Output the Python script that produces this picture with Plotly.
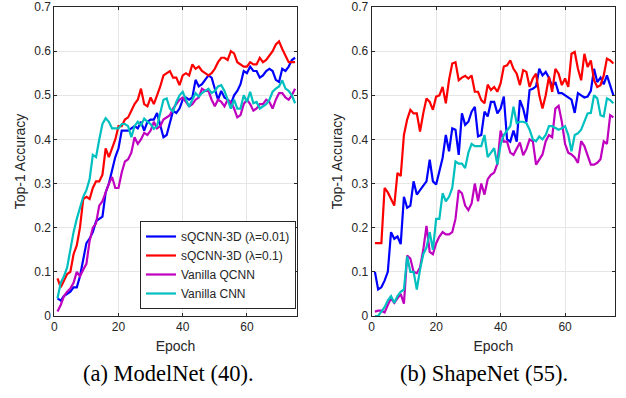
import plotly.graph_objects as go

epochs = list(range(1, 76))

# ---- (a) ModelNet (40) ----
modelnet_sqcnn_001 = [0.04, 0.035, 0.045, 0.05, 0.055, 0.065, 0.065, 0.09, 0.13, 0.165,
                      0.175, 0.19, 0.215, 0.22, 0.225, 0.28, 0.30, 0.33, 0.36, 0.38,
                      0.42, 0.42, 0.42, 0.425, 0.43, 0.425, 0.44, 0.42, 0.44, 0.445,
                      0.445, 0.46, 0.43, 0.405, 0.41, 0.44, 0.465, 0.46, 0.47, 0.49,
                      0.495, 0.49, 0.495, 0.535, 0.52, 0.525, 0.535, 0.545, 0.54, 0.515,
                      0.49, 0.51, 0.495, 0.49, 0.48, 0.50, 0.51, 0.525, 0.555, 0.55,
                      0.565, 0.555, 0.555, 0.54, 0.545, 0.555, 0.56, 0.555, 0.535, 0.53,
                      0.56, 0.555, 0.565, 0.58, 0.585]
modelnet_sqcnn_01 = [0.085, 0.065, 0.08, 0.095, 0.10, 0.14, 0.16, 0.20, 0.265, 0.27,
                     0.265, 0.29, 0.305, 0.305, 0.32, 0.38, 0.36, 0.38, 0.40, 0.43,
                     0.43, 0.445, 0.45, 0.465, 0.48, 0.49, 0.515, 0.48, 0.475, 0.495,
                     0.48, 0.50, 0.52, 0.545, 0.55, 0.555, 0.54, 0.54, 0.523, 0.545,
                     0.55, 0.545, 0.57, 0.56, 0.565, 0.555, 0.55, 0.545, 0.55, 0.56,
                     0.575, 0.585, 0.585, 0.58, 0.60, 0.595, 0.575, 0.57, 0.565, 0.565,
                     0.575, 0.57, 0.57, 0.585, 0.575, 0.58, 0.59, 0.60, 0.615, 0.622,
                     0.605, 0.59, 0.575, 0.575, 0.575]
modelnet_vqcnn = [0.01, 0.025, 0.045, 0.055, 0.062, 0.075, 0.10, 0.09, 0.105, 0.118,
                  0.17, 0.20, 0.21, 0.25, 0.26, 0.28, 0.30, 0.315, 0.29, 0.29,
                  0.325, 0.35, 0.355, 0.37, 0.405, 0.39, 0.40, 0.415, 0.41, 0.42,
                  0.44, 0.425, 0.43, 0.445, 0.45, 0.455, 0.47, 0.48, 0.49, 0.495,
                  0.485, 0.475, 0.48, 0.49, 0.495, 0.515, 0.51, 0.51, 0.49, 0.475,
                  0.49, 0.485, 0.475, 0.49, 0.485, 0.47, 0.45, 0.455, 0.48, 0.49,
                  0.48, 0.465, 0.47, 0.48, 0.48, 0.49, 0.485, 0.47, 0.49, 0.505,
                  0.505, 0.495, 0.49, 0.50, 0.515]
modelnet_vcnn = [0.04, 0.075, 0.09, 0.11, 0.15, 0.19, 0.22, 0.245, 0.27, 0.285,
                 0.31, 0.365, 0.36, 0.40, 0.435, 0.448, 0.44, 0.425, 0.425, 0.425,
                 0.435, 0.435, 0.43, 0.405, 0.43, 0.44, 0.432, 0.447, 0.44, 0.435,
                 0.424, 0.43, 0.46, 0.49, 0.493, 0.47, 0.463, 0.485, 0.50, 0.508,
                 0.49, 0.474, 0.49, 0.505, 0.497, 0.505, 0.51, 0.515, 0.505, 0.51,
                 0.52, 0.523, 0.51, 0.49, 0.47, 0.49, 0.47, 0.47, 0.50, 0.485,
                 0.508, 0.482, 0.485, 0.47, 0.475, 0.48, 0.49, 0.508, 0.515, 0.52,
                 0.534, 0.515, 0.51, 0.50, 0.482]

# ---- (b) ShapeNet (55) ----
shapenet_sqcnn_001 = [0.10, 0.06, 0.065, 0.08, 0.10, 0.19, 0.175, 0.18, 0.163, 0.27,
                      0.245, 0.25, 0.305, 0.275, 0.285, 0.295, 0.305, 0.354, 0.305, 0.298,
                      0.332, 0.358, 0.41, 0.373, 0.425, 0.422, 0.365, 0.459, 0.433, 0.44,
                      0.463, 0.474, 0.407, 0.41, 0.463, 0.452, 0.485, 0.485, 0.459, 0.47,
                      0.497, 0.40, 0.395, 0.42, 0.395, 0.489, 0.47, 0.44, 0.512, 0.515,
                      0.52, 0.56, 0.545, 0.553, 0.54, 0.52, 0.53, 0.505, 0.505, 0.50,
                      0.495, 0.49, 0.46, 0.505, 0.50, 0.495, 0.497, 0.51, 0.56, 0.53,
                      0.54, 0.525, 0.545, 0.52, 0.50]
shapenet_sqcnn_01 = [0.165, 0.165, 0.165, 0.29, 0.28, 0.265, 0.25, 0.324, 0.317, 0.41,
                     0.445, 0.467, 0.459, 0.459, 0.418, 0.459, 0.493, 0.485, 0.467, 0.497,
                     0.50, 0.519, 0.482, 0.535, 0.572, 0.575, 0.534, 0.54, 0.544, 0.538,
                     0.545, 0.508, 0.508, 0.489, 0.482, 0.524, 0.512, 0.519, 0.508, 0.527,
                     0.565, 0.568, 0.579, 0.56, 0.549, 0.523, 0.557, 0.553, 0.519, 0.538,
                     0.549, 0.50, 0.47, 0.50, 0.542, 0.508, 0.56, 0.549, 0.523, 0.538,
                     0.519, 0.594, 0.598, 0.56, 0.534, 0.594, 0.564, 0.579, 0.534, 0.519,
                     0.523, 0.545, 0.583, 0.579, 0.572]
shapenet_vqcnn = [0.01, 0.012, 0.012, 0.008, 0.025, 0.04, 0.03, 0.04, 0.05, 0.028,
                  0.137, 0.13, 0.10, 0.097, 0.11, 0.15, 0.204, 0.145, 0.14, 0.165,
                  0.18, 0.19, 0.185, 0.185, 0.19, 0.22, 0.285, 0.278, 0.25, 0.24,
                  0.255, 0.30, 0.26, 0.30, 0.275, 0.31, 0.32, 0.325, 0.345, 0.42,
                  0.395, 0.395, 0.37, 0.365, 0.38, 0.393, 0.364, 0.378, 0.40, 0.396,
                  0.343, 0.355, 0.366, 0.396, 0.41, 0.405, 0.47, 0.476, 0.44, 0.39,
                  0.37, 0.366, 0.359, 0.347, 0.396, 0.385, 0.366, 0.343, 0.343, 0.347,
                  0.355, 0.396, 0.39, 0.455, 0.45]
shapenet_vcnn = [0.0, 0.0, 0.01, 0.02, 0.035, 0.045, 0.03, 0.045, 0.055, 0.06,
                 0.135, 0.10, 0.10, 0.06, 0.105, 0.14, 0.155, 0.19, 0.15, 0.22,
                 0.22, 0.278, 0.26, 0.27, 0.29, 0.35, 0.345, 0.345, 0.335, 0.37,
                 0.39, 0.385, 0.385, 0.385, 0.41, 0.36, 0.37, 0.38, 0.343, 0.388,
                 0.41, 0.42, 0.43, 0.474, 0.437, 0.44, 0.44, 0.437, 0.422, 0.40,
                 0.396, 0.407, 0.40, 0.41, 0.43, 0.43, 0.425, 0.422, 0.425, 0.43,
                 0.41, 0.373, 0.41, 0.414, 0.422, 0.44, 0.459, 0.46, 0.50, 0.493,
                 0.455, 0.452, 0.493, 0.489, 0.482]

series_names = ["sQCNN-3D (λ=0.01)", "sQCNN-3D (λ=0.1)", "Vanilla QCNN", "Vanilla CNN"]
series_colors = ["#0000FF", "#FF0000", "#BF00BF", "#00BFBF"]
x_ticks = [0, 20, 40, 60]
y_ticks = [0, 0.1, 0.2, 0.3, 0.4, 0.5, 0.6, 0.7]
captions = ["(a) ModelNet (40).", "(b) ShapeNet (55)."]

left_data = [modelnet_sqcnn_001, modelnet_sqcnn_01, modelnet_vqcnn, modelnet_vcnn]
right_data = [shapenet_sqcnn_001, shapenet_sqcnn_01, shapenet_vqcnn, shapenet_vcnn]

fig = go.Figure()
for name, color, ys in zip(series_names, series_colors, left_data):
    fig.add_trace(go.Scatter(x=epochs, y=ys, mode="lines", name=name,
                             line=dict(color=color, width=2.2),
                             xaxis="x", yaxis="y", showlegend=True))
for name, color, ys in zip(series_names, series_colors, right_data):
    fig.add_trace(go.Scatter(x=epochs, y=ys, mode="lines", name=name,
                             line=dict(color=color, width=2.2),
                             xaxis="x2", yaxis="y2", showlegend=False))

W, H = 626, 398
axcol = "#262626"
sans = "Liberation Sans, Arial, sans-serif"
serif = "Liberation Serif, Times New Roman, serif"
tickfont = dict(family=sans, size=12, color=axcol)

def xax(domain, anchor):
    return dict(domain=domain, anchor=anchor, range=[0, 75.5], tickvals=x_ticks,
                showline=True, linecolor=axcol, linewidth=1, mirror="ticks",
                ticks="inside", ticklen=3, tickcolor=axcol, automargin=False,
                ticklabeloverflow="allow",
                showgrid=True, gridcolor="#E6E6E6", gridwidth=1, zeroline=False,
                tickfont=tickfont,
                title=dict(text="Epoch", font=dict(family=sans, size=14, color=axcol), standoff=7))

def yax(domain, anchor):
    return dict(domain=domain, anchor=anchor, range=[0, 0.7], tickvals=y_ticks,
                ticktext=[f"{v:g}" for v in y_ticks],
                showline=True, linecolor=axcol, linewidth=1, mirror="ticks",
                ticks="inside", ticklen=3, tickcolor=axcol, automargin=False,
                ticklabeloverflow="allow",
                showgrid=True, gridcolor="#E6E6E6", gridwidth=1, zeroline=False,
                tickfont=tickfont,
                title=dict(text="Top-1 Accuracy", font=dict(family=sans, size=14, color=axcol), standoff=5))

ydom = [(H - 316.0) / H, (H - 7.0) / H]
fig.update_layout(
    width=W, height=H,
    margin=dict(l=0, r=0, t=0, b=0, autoexpand=False),
    paper_bgcolor="white", plot_bgcolor="white",
    xaxis=xax([54.3 / W, 296.7 / W], "y"),
    yaxis=yax(ydom, "x"),
    xaxis2=xax([371.7 / W, 615.0 / W], "y2"),
    yaxis2=yax(ydom, "x2"),
    legend=dict(x=296.0 / W, y=(H - 309) / H, xanchor="right", yanchor="bottom",
                bgcolor="white", bordercolor=axcol, borderwidth=1,
                font=dict(family=sans, size=12, color=axcol),
                tracegroupgap=0, itemwidth=30),
    annotations=[
        dict(text=captions[0], x=168 / W, y=(H - 373) / H, xref="paper", yref="paper",
             xanchor="center", yanchor="middle", showarrow=False,
             font=dict(family=serif, size=22.5, color="black")),
        dict(text=captions[1], x=484 / W, y=(H - 373) / H, xref="paper", yref="paper",
             xanchor="center", yanchor="middle", showarrow=False,
             font=dict(family=serif, size=22.5, color="black")),
    ],
)

fig.write_html("out.html", config={"displayModeBar": False},
               post_script="document.body.style.margin='0';document.body.style.padding='0';")
